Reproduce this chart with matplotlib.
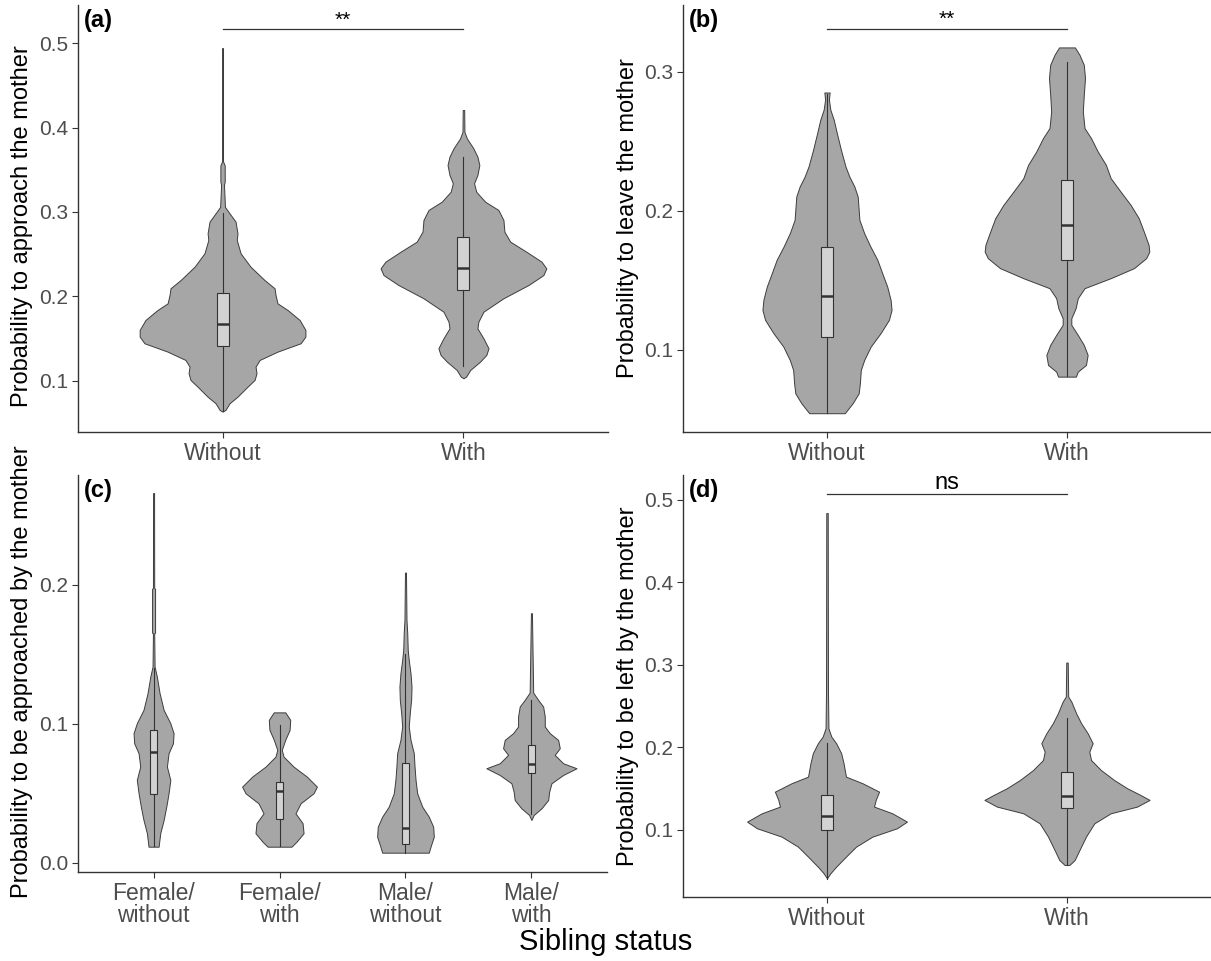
import numpy as np
import matplotlib.pyplot as plt

plt.rcParams['font.family'] = ['Liberation Sans', 'DejaVu Sans']

# ---- panel (a): probability to approach the mother
a_groups = ['Without', 'With']
a_without_y = [0.494, 0.36, 0.355, 0.336, 0.332, 0.306, 0.298, 0.2886, 0.2748, 0.2669, 0.2511,
               0.2353, 0.2195, 0.2097, 0.2018, 0.1919, 0.184, 0.1722, 0.1604, 0.1525, 0.1446,
               0.1347, 0.1249, 0.117, 0.1091, 0.1012, 0.0933, 0.0814, 0.0736, 0.0657, 0.0637]
a_without_w = [0.002, 0.002, 0.009, 0.009, 0.006, 0.01, 0.03, 0.054, 0.062, 0.059, 0.075,
               0.116, 0.174, 0.216, 0.22, 0.228, 0.27, 0.32, 0.344, 0.344, 0.324,
               0.228, 0.154, 0.137, 0.141, 0.133, 0.104, 0.062, 0.029, 0.012, 0.0]
a_with_y = [0.4207, 0.395, 0.3872, 0.3754, 0.3655, 0.3556, 0.3438, 0.334, 0.324, 0.3122,
            0.3024, 0.2905, 0.2767, 0.2649, 0.253, 0.2412, 0.2333, 0.2254, 0.2136, 0.1979,
            0.182, 0.1702, 0.1623, 0.1505, 0.1387, 0.1308, 0.1229, 0.113, 0.1051, 0.1032]
a_with_w = [0.003, 0.004, 0.014, 0.041, 0.058, 0.066, 0.058, 0.044, 0.053, 0.09,
            0.145, 0.166, 0.17, 0.194, 0.261, 0.324, 0.344, 0.332, 0.27, 0.166,
            0.083, 0.062, 0.058, 0.083, 0.104, 0.095, 0.069, 0.028, 0.011, 0.0]
# box stats: lower whisker, q1, median, q3, upper whisker
a_box = [[0.064, 0.1416, 0.168, 0.2045, 0.299],
         [0.118, 0.2077, 0.234, 0.2708, 0.3655]]

# ---- panel (b): probability to leave the mother
b_groups = ['Without', 'With']
b_without_y = [0.2851, 0.2799, 0.2727, 0.2655, 0.2559, 0.2439, 0.2319, 0.2247, 0.2175, 0.2103,
               0.2007, 0.1935, 0.1839, 0.1743, 0.1647, 0.1552, 0.1455, 0.136, 0.1288, 0.1216,
               0.112, 0.1024, 0.0928, 0.0856, 0.076, 0.0688, 0.0617, 0.0556, 0.0545]
b_without_w = [0.011, 0.008, 0.014, 0.028, 0.041, 0.058, 0.077, 0.093, 0.114, 0.128,
               0.132, 0.135, 0.155, 0.181, 0.21, 0.23, 0.251, 0.265, 0.269, 0.258,
               0.223, 0.182, 0.155, 0.141, 0.137, 0.132, 0.107, 0.079, 0.074]
b_with_y = [0.3175, 0.3122, 0.305, 0.2955, 0.2835, 0.2714, 0.2595, 0.2523, 0.2427, 0.2331,
            0.2235, 0.2139, 0.2043, 0.1947, 0.1851, 0.1755, 0.1707, 0.166, 0.1588, 0.1516,
            0.1444, 0.1372, 0.13, 0.1228, 0.118, 0.1108, 0.1036, 0.0964, 0.0892, 0.0844, 0.0808]
b_with_w = [0.033, 0.052, 0.07, 0.075, 0.07, 0.066, 0.073, 0.1, 0.128, 0.162,
            0.182, 0.223, 0.265, 0.299, 0.32, 0.34, 0.343, 0.33, 0.279, 0.182,
            0.073, 0.045, 0.036, 0.018, 0.018, 0.045, 0.07, 0.086, 0.079, 0.045, 0.037]
b_box = [[0.0545, 0.109, 0.139, 0.1743, 0.284],
         [0.081, 0.165, 0.19, 0.2223, 0.307]]

# ---- panel (c): probability to be approached by the mother
c_groups = ['Female/\nwithout', 'Female/\nwith', 'Male/\nwithout', 'Male/\nwith']
c_fwo_y = [0.266, 0.1976, 0.1972, 0.1656, 0.1652, 0.1412, 0.134, 0.122, 0.1101, 0.1005,
           0.0933, 0.0861, 0.0789, 0.0693, 0.0597, 0.0501, 0.0405, 0.0309, 0.0214, 0.0117]
c_fwo_w = [0.004, 0.005, 0.012, 0.012, 0.005, 0.008, 0.026, 0.048, 0.08, 0.133,
           0.159, 0.154, 0.119, 0.106, 0.133, 0.119, 0.101, 0.08, 0.053, 0.04]
c_fw_y = [0.1083, 0.1029, 0.0957, 0.0885, 0.0813, 0.0765, 0.0693, 0.0621, 0.0549, 0.0501,
          0.0429, 0.0357, 0.0286, 0.0214, 0.0153, 0.0117]
c_fw_w = [0.046, 0.085, 0.08, 0.045, 0.018, 0.032, 0.111, 0.217, 0.297, 0.27,
          0.167, 0.127, 0.183, 0.191, 0.135, 0.095]
c_mwo_y = [0.2088, 0.1748, 0.1652, 0.1532, 0.146, 0.1364, 0.1268, 0.1173, 0.1077, 0.0981,
           0.0885, 0.0789, 0.0693, 0.0597, 0.0501, 0.0405, 0.0333, 0.0261, 0.0189, 0.0117, 0.0074]
c_mwo_w = [0.004, 0.008, 0.014, 0.018, 0.026, 0.04, 0.048, 0.045, 0.034, 0.026,
           0.04, 0.066, 0.072, 0.08, 0.093, 0.133, 0.185, 0.22, 0.225, 0.199, 0.185]
c_mw_y = [0.1796, 0.1225, 0.1173, 0.1125, 0.1053, 0.0981, 0.0933, 0.0885, 0.0825, 0.0777,
          0.0717, 0.0681, 0.0633, 0.0573, 0.0513, 0.0453, 0.0393, 0.0345, 0.0309]
c_mw_w = [0.004, 0.014, 0.053, 0.093, 0.106, 0.106, 0.146, 0.212, 0.225, 0.185,
          0.252, 0.358, 0.252, 0.159, 0.141, 0.133, 0.08, 0.018, 0.0]
c_box = [[0.012, 0.0496, 0.0796, 0.0957, 0.14],
         [0.012, 0.0314, 0.052, 0.0585, 0.0995],
         [0.007, 0.0139, 0.0255, 0.0717, 0.15],
         [0.035, 0.0645, 0.0712, 0.085, 0.117]]

# ---- panel (d): probability to be left by the mother
d_groups = ['Without', 'With']
d_without_y = [0.4839, 0.27, 0.2232, 0.2131, 0.2051, 0.193, 0.1808, 0.1646, 0.1566, 0.1464,
               0.1364, 0.1283, 0.1202, 0.1101, 0.1021, 0.0919, 0.0798, 0.0677, 0.0555, 0.0475, 0.0414]
d_without_w = [0.003, 0.004, 0.006, 0.018, 0.038, 0.059, 0.069, 0.079, 0.148, 0.217,
               0.203, 0.196, 0.272, 0.333, 0.292, 0.189, 0.121, 0.079, 0.038, 0.014, 0.0]
d_with_y = [0.3028, 0.2616, 0.2555, 0.2414, 0.2293, 0.2172, 0.2051, 0.1949, 0.1848, 0.1727,
            0.1606, 0.1505, 0.1424, 0.1364, 0.1283, 0.1202, 0.1081, 0.0919, 0.0758, 0.0636, 0.0576]
d_with_w = [0.003, 0.005, 0.018, 0.038, 0.059, 0.086, 0.107, 0.093, 0.1, 0.141,
            0.196, 0.251, 0.306, 0.344, 0.292, 0.182, 0.114, 0.079, 0.052, 0.032, 0.01]
d_box = [[0.041, 0.0996, 0.117, 0.1424, 0.205],
         [0.058, 0.127, 0.1413, 0.170, 0.2354]]

ylabels = ['Probability to approach the mother', 'Probability to leave the mother',
           'Probability to be approached by the mother', 'Probability to be left by the mother']
signif = {'a': ('**', 0.5162), 'b': ('**', 0.3307), 'd': ('ns', 0.5069)}

VIOLIN_FILL = '#a6a6a6'
EDGE = '#3c3c3c'
TICK_GREY = '#4d4d4d'


def draw_panel(ax, profiles, boxes, groups, ylim, yticks, tag):
    pos = np.arange(1, len(groups) + 1)
    for p, (ys, ws) in zip(pos, profiles):
        ys = np.array(ys)
        ws = np.array(ws)
        ax.fill_betweenx(ys, p - ws, p + ws, facecolor=VIOLIN_FILL, edgecolor=EDGE,
                         linewidth=0.7, zorder=2)
    stats = [dict(whislo=b[0], q1=b[1], med=b[2], q3=b[3], whishi=b[4]) for b in boxes]
    ax.bxp(stats, positions=pos, widths=0.05, patch_artist=True, showfliers=False,
           showcaps=False,
           boxprops=dict(facecolor='#d3d3d3', edgecolor='#333333', linewidth=0.8),
           whiskerprops=dict(color='#333333', linewidth=0.8),
           medianprops=dict(color='#333333', linewidth=1.8),
           zorder=3)
    ax.set_xlim(0.4, len(groups) + 0.6)
    ax.set_ylim(*ylim)
    ax.set_yticks(yticks)
    ax.set_yticklabels(['%.1f' % t for t in yticks])
    ax.set_xticks(pos)
    ax.set_xticklabels(groups)
    for s in ['top', 'right']:
        ax.spines[s].set_visible(False)
    for s in ['left', 'bottom']:
        ax.spines[s].set_color('#333333')
        ax.spines[s].set_linewidth(1.0)
    ax.tick_params(axis='both', colors='#333333', labelcolor=TICK_GREY,
                   length=4, width=0.8, pad=3)
    ax.tick_params(axis='x', labelsize=16.5)
    ax.tick_params(axis='y', labelsize=15)
    if len(groups) > 2:
        for lab in ax.get_xticklabels():
            lab.set_linespacing(0.95)
    ax.text(0.012, 0.99, '(%s)' % tag, transform=ax.transAxes, ha='left', va='top',
            fontsize=17, fontweight='bold')
    if tag in signif:
        txt, yv = signif[tag]
        ax.plot([1, 2], [yv, yv], color='#333333', linewidth=0.9, zorder=4)
        fs = 15 if txt == '**' else 17
        ax.text(1.5, yv, txt, ha='center', va='bottom', fontsize=fs)


fig = plt.figure(figsize=(12.11, 9.61), dpi=100)
ax_a = fig.add_axes([78 / 1211, 1 - 432 / 961, 530 / 1211, 427 / 961])
ax_b = fig.add_axes([683 / 1211, 1 - 432 / 961, 528 / 1211, 427 / 961])
ax_c = fig.add_axes([78 / 1211, 1 - 872 / 961, 529 / 1211, 397 / 961])
ax_d = fig.add_axes([683 / 1211, 1 - 897 / 961, 528 / 1211, 422 / 961])

draw_panel(ax_a, [(a_without_y, a_without_w), (a_with_y, a_with_w)], a_box, a_groups,
           (0.0396, 0.545), [0.1, 0.2, 0.3, 0.4, 0.5], 'a')
draw_panel(ax_b, [(b_without_y, b_without_w), (b_with_y, b_with_w)], b_box, b_groups,
           (0.041, 0.348), [0.1, 0.2, 0.3], 'b')
draw_panel(ax_c, [(c_fwo_y, c_fwo_w), (c_fw_y, c_fw_w), (c_mwo_y, c_mwo_w), (c_mw_y, c_mw_w)],
           c_box, c_groups, (-0.0065, 0.279), [0.0, 0.1, 0.2], 'c')
draw_panel(ax_d, [(d_without_y, d_without_w), (d_with_y, d_with_w)], d_box, d_groups,
           (0.0188, 0.530), [0.1, 0.2, 0.3, 0.4, 0.5], 'd')

# y axis titles centred on their panels
fig.text(22 / 1211, 1 - 226 / 961, ylabels[0], rotation=90, ha='center', va='center', fontsize=17)
fig.text(628 / 1211, 1 - 218 / 961, ylabels[1], rotation=90, ha='center', va='center', fontsize=17)
fig.text(22 / 1211, 1 - 672 / 961, ylabels[2], rotation=90, ha='center', va='center', fontsize=17)
fig.text(628 / 1211, 1 - 686 / 961, ylabels[3], rotation=90, ha='center', va='center', fontsize=17)
fig.text(0.5, 1 - 942 / 961, 'Sibling status', ha='center', va='center', fontsize=21)

fig.savefig('out.png', dpi=100)
